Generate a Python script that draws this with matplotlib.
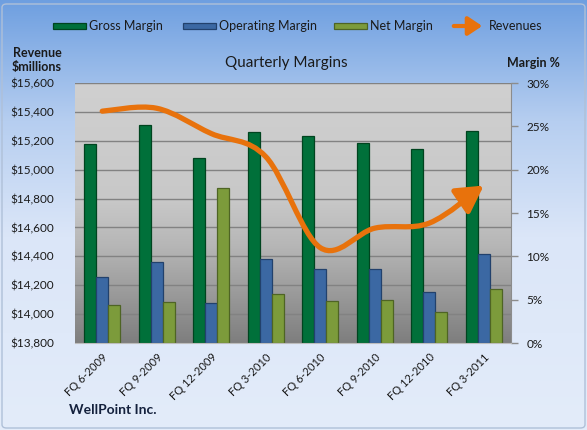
import numpy as np
import matplotlib

matplotlib.use("Agg")
import matplotlib.pyplot as plt  # noqa: E402
from matplotlib.colors import LinearSegmentedColormap  # noqa: E402
from matplotlib.patches import FancyArrowPatch, Rectangle, FancyBboxPatch  # noqa: E402
from matplotlib.path import Path  # noqa: E402
from matplotlib.ticker import FuncFormatter, MultipleLocator  # noqa: E402

plt.rcParams["font.family"] = ["Lato", "DejaVu Sans"]

# ---- data ----
quarters = ["FQ 6-2009", "FQ 9-2009", "FQ 12-2009", "FQ 3-2010",
            "FQ 6-2010", "FQ 9-2010", "FQ 12-2010", "FQ 3-2011"]
gross_margin = [23.0, 25.1, 21.3, 24.4, 23.9, 23.1, 22.4, 24.5]        # %
operating_margin = [7.6, 9.3, 4.6, 9.7, 8.5, 8.5, 5.9, 10.3]           # %
net_margin = [4.4, 4.7, 17.9, 5.7, 4.9, 5.0, 3.6, 6.2]                 # %
revenues = [15405, 15425, 15250, 15090, 14460, 14595, 14630, 14890]    # $ millions

REV_LIM = (13800, 15600)
PCT_LIM = (0, 30)

W, H = 587, 430
ORANGE = "#E8720C"
series = [
    ("Gross Margin", gross_margin, "#00703A", "#00441F"),
    ("Operating Margin", operating_margin, "#3B68A3", "#22416C"),
    ("Net Margin", net_margin, "#7C9B3B", "#4E6424"),
]


def fx(x):
    return x / W


def fy(y):
    return 1 - y / H


def smooth_path(xs, ys):
    """Excel-style smoothed line: Catmull-Rom segments as cubic Beziers."""
    pts = np.column_stack([xs, ys]).astype(float)
    ext = np.vstack([pts[0], pts, pts[-1]])
    verts, codes = [pts[0]], [Path.MOVETO]
    for i in range(len(pts) - 1):
        p0, p1, p2, p3 = ext[i], ext[i + 1], ext[i + 2], ext[i + 3]
        verts += [p1 + (p2 - p0) / 6, p2 - (p3 - p1) / 6, p2]
        codes += [Path.CURVE4] * 3
    return Path(verts, codes)


fig = plt.figure(figsize=(W / 100, H / 100), dpi=100)

# figure background gradient
bg = fig.add_axes([0, 0, 1, 1], zorder=-10)
bg_cmap = LinearSegmentedColormap.from_list(
    "bgblue", [(0, "#E3ECFA"), (0.45, "#DBE6F8"), (0.72, "#B6CEF0"), (1, "#6E9FE0")])
bg.imshow(np.linspace(0, 1, 256)[:, None], cmap=bg_cmap, aspect="auto",
          extent=[0, 1, 0, 1])
bg.set_xlim(0, 1)
bg.set_ylim(1, 0)
bg.axis("off")
fig.patches.append(FancyBboxPatch((fx(2), fy(428)), fx(583), 424 / H,
                                  boxstyle="round,pad=0,rounding_size=0.008",
                                  transform=fig.transFigure, fc="none",
                                  ec="#AFC0D8", lw=1.0))

rect = [fx(75), fy(343), fx(511 - 75), (343 - 83) / H]

# plot area gradient + gridlines (revenue scale)
pa = fig.add_axes(rect, zorder=0)
pa_cmap = LinearSegmentedColormap.from_list(
    "pagray", [(0, "#D0D0D0"), (0.45, "#C8C8C8"), (0.62, "#B7B7B7"), (1, "#7E7E7E")])
pa.imshow(np.linspace(0, 1, 256)[:, None], cmap=pa_cmap, aspect="auto",
          origin="upper", extent=[0, 1, REV_LIM[0], REV_LIM[1]])
pa.set_xlim(0, 1)
pa.set_ylim(*REV_LIM)
for v in np.arange(REV_LIM[0] + 200, REV_LIM[1] + 1, 200):
    pa.axhline(v, color="#828282", lw=1.0)
pa.axis("off")

# bars on the percent axis (right side)
ax = fig.add_axes(rect, zorder=1)
ax.patch.set_visible(False)
x = np.arange(len(quarters))
bw = 0.22
for k, (name, vals, fc, ec) in enumerate(series):
    ax.bar(x + (k - 1) * bw, vals, width=bw, color=fc, edgecolor=ec, lw=0.9)
ax.set_xlim(-0.5, len(quarters) - 0.5)
ax.set_ylim(*PCT_LIM)
ax.set_xticks(x)
ax.set_xticklabels(quarters, rotation=45, ha="right", rotation_mode="anchor",
                   fontsize=8, color="#1A1A1A")
ax.tick_params(axis="x", length=0, pad=6)

# revenue line on the left axis
ax2 = ax.twinx()
ax2.set_zorder(2)
ax2.patch.set_visible(False)
ax2.set_ylim(*REV_LIM)
ax2.yaxis.tick_left()
ax2.yaxis.set_major_locator(MultipleLocator(200))
ax2.yaxis.set_major_formatter(FuncFormatter(lambda v, _: f"${v:,.0f}"))
ax2.tick_params(axis="y", length=0, pad=15, labelsize=8.5, labelcolor="#1A1A1A")
for s in ax2.spines.values():
    s.set_visible(False)

# twinx moved the percent ticks to the left; put them back on the right
ax.yaxis.tick_right()
ax.yaxis.set_major_locator(MultipleLocator(5))
ax.yaxis.set_major_formatter(FuncFormatter(lambda v, _: f"{v:.0f}%"))
ax.tick_params(axis="y", length=5, width=1, color="#8C8C8C", pad=6,
               labelsize=8.5, labelcolor="#1A1A1A")
for s in ("top", "left"):
    ax.spines[s].set_visible(False)
ax.spines["right"].set_color("#8C8C8C")
ax.spines["bottom"].set_color("#BDBDBD")

rev_arrow = FancyArrowPatch(path=smooth_path(x, revenues),
                            arrowstyle="-|>,head_length=0.8,head_width=0.45",
                            mutation_scale=20, color=ORANGE, lw=3.8,
                            capstyle="round", joinstyle="round",
                            transform=ax2.transData)
ax2.add_patch(rev_arrow)

# legend (drawn by hand, Excel style)
leg_y = 26
for (name, _, fc, ec), x0, tx in zip(series, (53, 183, 334), (89, 219, 370)):
    fig.patches.append(Rectangle((fx(x0), fy(leg_y + 3)), fx(33), 6 / H,
                                 transform=fig.transFigure, fc=fc, ec=ec, lw=0.9))
    fig.text(fx(tx), fy(leg_y), name, fontsize=9, va="center", color="#1A1A1A")
fig.patches.append(FancyArrowPatch((fx(451), fy(leg_y)), (fx(485), fy(leg_y)),
                                   transform=fig.transFigure,
                                   arrowstyle="-|>,head_length=0.6,head_width=0.4",
                                   mutation_scale=14, color=ORANGE, lw=3))
fig.text(fx(489), fy(leg_y), "Revenues", fontsize=9, va="center", color="#1A1A1A")

# titles
fig.text(fx(286), fy(63), "Quarterly Margins", fontsize=11, ha="center",
         va="center", color="#1A1A1A")
fig.text(fx(37), fy(60), "Revenue\n$millions", fontsize=9, fontweight="bold",
         ha="center", va="center", linespacing=1.25, color="#1A1A1A")
fig.text(fx(533), fy(63), "Margin %", fontsize=9, fontweight="bold",
         ha="center", va="center", color="#1A1A1A")
fig.text(fx(69), fy(410), "WellPoint Inc.", fontsize=10, fontweight="bold",
         va="center", color="#14213D")

fig.savefig("out.png", dpi=100)
